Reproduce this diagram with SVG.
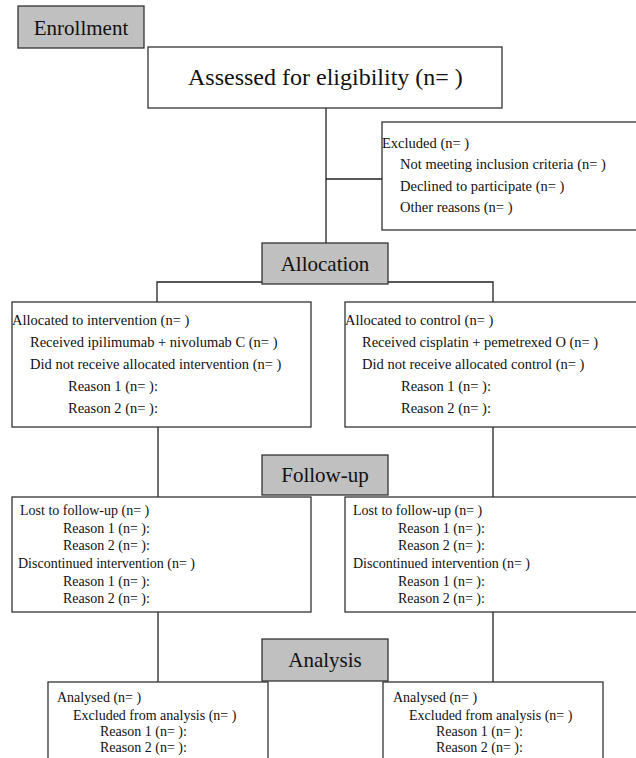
<svg xmlns="http://www.w3.org/2000/svg" width="636" height="758" viewBox="0 0 636 758">
<style>
text{font-family:"Liberation Serif","Times New Roman",serif;fill:#111}
.box{fill:#fff;stroke:#333;stroke-width:1.3}
.hdr{fill:#c0c0c0;stroke:#333;stroke-width:1.3}
.h{font-size:21px;text-anchor:middle}
.s{font-size:14.5px}
.f{font-size:14px}
.con{fill:none;stroke:#222;stroke-width:1.3}
</style>
<rect width="636" height="758" fill="#fff"/>
<g id="connectors">
<path class="con" d="M326 108V243"/>
<path class="con" d="M326 179H382"/>
<path class="con" d="M262 282H157V302"/>
<path class="con" d="M388 282H493V302"/>
<path class="con" d="M158 427V497"/>
<path class="con" d="M493 427V497"/>
<path class="con" d="M158 612V682"/>
<path class="con" d="M493 612V682"/>
</g>
<g id="enrollment">
<rect class="hdr" x="18" y="6" width="126" height="42"/>
<text class="h" x="81" y="35">Enrollment</text>
</g>
<g id="assessed">
<rect class="box" x="148" y="47" width="354" height="61"/>
<text x="188" y="85" font-size="24px">Assessed for eligibility (n= )</text>
</g>
<g id="excluded">
<rect class="box" x="382" y="122" width="260" height="108"/>
<text class="s" x="382" y="148">Excluded  (n= )</text>
<text class="s" x="400" y="169">Not meeting inclusion criteria (n= )</text>
<text class="s" x="400" y="191">Declined to participate (n= )</text>
<text class="s" x="400" y="212">Other reasons (n= )</text>
</g>
<g id="allocation">
<rect class="hdr" x="262" y="243" width="126" height="41"/>
<text class="h" x="325" y="271">Allocation</text>
</g>
<g id="alloc-intervention">
<rect class="box" x="12" y="302" width="299" height="125"/>
<text class="s" x="12" y="325">Allocated to intervention (n= )</text>
<text class="s" x="30" y="347">Received ipilimumab + nivolumab C (n= )</text>
<text class="s" x="30" y="369">Did not receive allocated intervention (n= )</text>
<text class="s" x="68" y="391">Reason 1 (n= ):</text>
<text class="s" x="68" y="413">Reason 2 (n= ):</text>
</g>
<g id="alloc-control">
<rect class="box" x="345" y="302" width="297" height="125"/>
<text class="s" x="345" y="325">Allocated to control (n= )</text>
<text class="s" x="362" y="347">Received cisplatin + pemetrexed O (n= )</text>
<text class="s" x="362" y="369">Did not receive allocated control (n= )</text>
<text class="s" x="401" y="391">Reason 1 (n= ):</text>
<text class="s" x="401" y="413">Reason 2 (n= ):</text>
</g>
<g id="followup">
<rect class="hdr" x="262" y="455" width="126" height="40"/>
<text class="h" x="325" y="482">Follow-up</text>
</g>
<g id="followup-intervention">
<rect class="box" x="12" y="497" width="299" height="115"/>
<text class="f" x="20" y="515">Lost to follow-up (n= )</text>
<text class="f" x="63" y="533">Reason 1 (n= ):</text>
<text class="f" x="63" y="550">Reason 2 (n= ):</text>
<text class="f" x="18" y="568">Discontinued intervention (n= )</text>
<text class="f" x="63" y="586">Reason 1 (n= ):</text>
<text class="f" x="63" y="603">Reason 2 (n= ):</text>
</g>
<g id="followup-control">
<rect class="box" x="345" y="497" width="297" height="115"/>
<text class="f" x="353" y="515">Lost to follow-up (n= )</text>
<text class="f" x="398" y="533">Reason 1 (n= ):</text>
<text class="f" x="398" y="550">Reason 2 (n= ):</text>
<text class="f" x="353" y="568">Discontinued intervention (n= )</text>
<text class="f" x="398" y="586">Reason 1 (n= ):</text>
<text class="f" x="398" y="603">Reason 2 (n= ):</text>
</g>
<g id="analysis-left">
<rect class="box" x="48" y="682" width="220" height="90"/>
<text class="f" x="57" y="702">Analysed (n= )</text>
<text class="f" x="73" y="720">Excluded from analysis (n= )</text>
<text class="f" x="100" y="736">Reason 1 (n= ):</text>
<text class="f" x="100" y="752">Reason 2 (n= ):</text>
</g>
<g id="analysis-right">
<rect class="box" x="383" y="682" width="220" height="90"/>
<text class="f" x="393" y="702">Analysed (n= )</text>
<text class="f" x="409" y="720">Excluded from analysis (n= )</text>
<text class="f" x="436" y="736">Reason 1 (n= ):</text>
<text class="f" x="436" y="752">Reason 2 (n= ):</text>
</g>
<g id="analysis">
<rect class="hdr" x="262" y="639" width="126" height="42"/>
<text class="h" x="325" y="667">Analysis</text>
</g>
</svg>
